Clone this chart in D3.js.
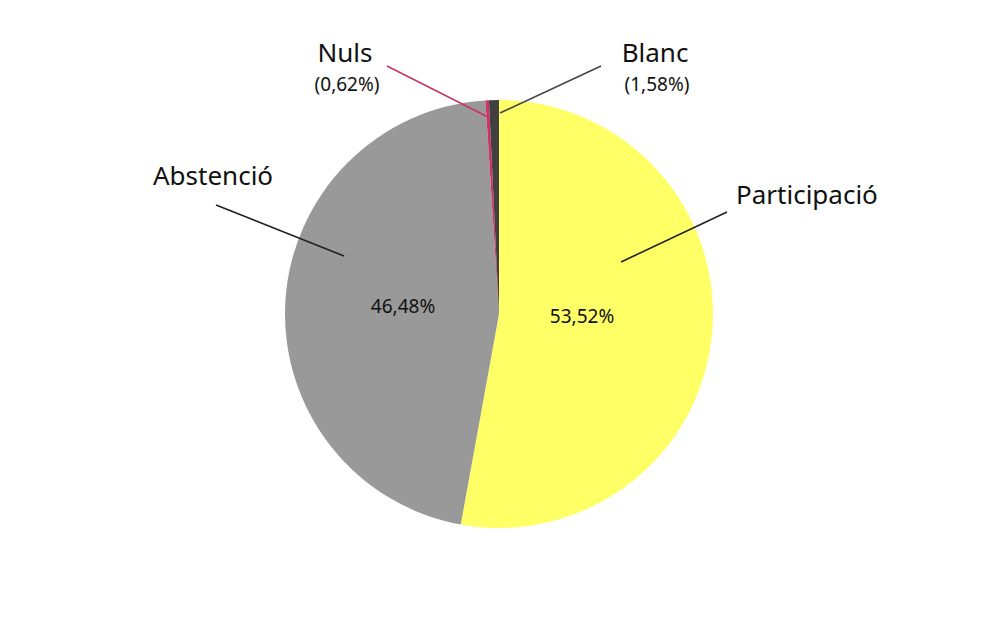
<!DOCTYPE html>
<html>
<head>
<meta charset="utf-8">
<script src="https://cdn.jsdelivr.net/npm/d3@7"></script>
<style>
  html, body { margin: 0; padding: 0; background: #fff; }
  svg { display: block; font-family: "Noto Sans", "Open Sans", sans-serif; }
</style>
</head>
<body>
<svg id="chart" width="1000" height="625"></svg>
<script>
// slices in drawing order, clockwise from 12 o'clock
const categories = ["Participació", "Abstenció", "Nuls", "Blanc"];
const sliceValues = [52.86, 46.13, 0.26, 0.75];
const valueLabels = ["53,52%", "46,48%", "0,62%", "1,58%"];
const sliceColors = ["#ffff66", "#999999", "#cc3366", "#404040"];

(function () {
  const svg = d3.select("#chart");
  const cx = 499, cy = 314, radius = 214;

  const g = svg.append("g").attr("transform", `translate(${cx},${cy})`);

  const pie = d3.pie().sort(null).value((d) => d.value);
  const arc = d3.arc().innerRadius(0).outerRadius(radius);

  const data = categories.map((name, i) => ({
    name,
    value: sliceValues[i],
    label: valueLabels[i],
    color: sliceColors[i],
  }));
  const arcs = pie(data);

  g.selectAll("path")
    .data(arcs)
    .join("path")
    .attr("d", arc)
    .attr("fill", (d) => d.data.color);

  // leader lines + labels (offsets relative to pie centre)
  const notes = {
    "Participació": { from: [122, -52], to: [228, -102], text: [237, -110], anchor: "start", lineColor: "#222" },
    "Abstenció": { from: [-155, -58], to: [-283, -109], text: [-346, -129], anchor: "start", lineColor: "#222" },
    "Nuls": { from: [-9, -196], to: [-112, -248], text: [-154, -252], anchor: "middle", lineColor: "#cc3366" },
    "Blanc": { from: [1, -201], to: [102, -248], text: [156, -252], anchor: "middle", lineColor: "#444" },
  };

  arcs.forEach((d) => {
    const n = notes[d.data.name];
    g.append("line")
      .attr("x1", n.from[0]).attr("y1", n.from[1])
      .attr("x2", n.to[0]).attr("y2", n.to[1])
      .attr("stroke", n.lineColor)
      .attr("stroke-width", 1.6);

    const t = g.append("text")
      .attr("x", n.text[0])
      .attr("y", n.text[1])
      .attr("text-anchor", n.anchor)
      .attr("fill", "#111");

    if (d.data.name === "Nuls" || d.data.name === "Blanc") {
      t.append("tspan").attr("font-size", 26).text(d.data.name);
      t.append("tspan")
        .attr("x", n.text[0] + 2)
        .attr("dy", 29)
        .attr("font-size", 19)
        .text("(" + d.data.label + ")");
    } else {
      t.attr("font-size", 26).text(d.data.name);
    }
  });

  // percentages inside the two big slices
  const inside = { "Participació": [83, 9], "Abstenció": [-96, -1] };
  arcs.filter((d) => inside[d.data.name]).forEach((d) => {
    const p = inside[d.data.name];
    g.append("text")
      .attr("x", p[0])
      .attr("y", p[1])
      .attr("text-anchor", "middle")
      .attr("font-size", 19)
      .attr("fill", "#111")
      .text(d.data.label);
  });
})();
</script>
</body>
</html>
